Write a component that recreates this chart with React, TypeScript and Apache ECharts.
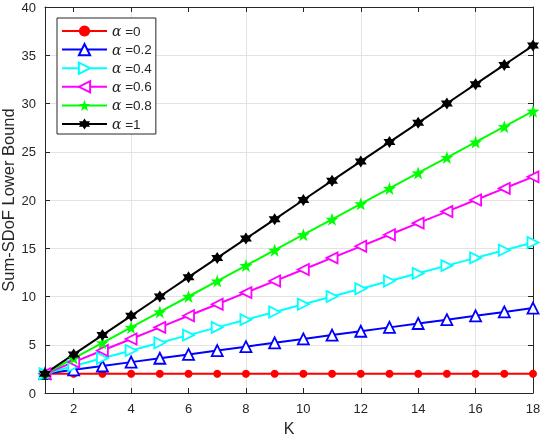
import React, { useEffect, useRef } from 'react';
import * as echarts from 'echarts';

const K = [1, 2, 3, 4, 5, 6, 7, 8, 9, 10, 11, 12, 13, 14, 15, 16, 17, 18];
const xTicks = [2, 4, 6, 8, 10, 12, 14, 16, 18];

const alpha0 = [2, 2, 2, 2, 2, 2, 2, 2, 2, 2, 2, 2, 2, 2, 2, 2, 2, 2];
const alpha02 = [2, 2.4, 2.8, 3.2, 3.6, 4, 4.4, 4.8, 5.2, 5.6, 6, 6.4, 6.8, 7.2, 7.6, 8, 8.4, 8.8];
const alpha04 = [2, 2.8, 3.6, 4.4, 5.2, 6, 6.8, 7.6, 8.4, 9.2, 10, 10.8, 11.6, 12.4, 13.2, 14, 14.8, 15.6];
const alpha06 = [2, 3.2, 4.4, 5.6, 6.8, 8, 9.2, 10.4, 11.6, 12.8, 14, 15.2, 16.4, 17.6, 18.8, 20, 21.2, 22.4];
const alpha08 = [2, 3.6, 5.2, 6.8, 8.4, 10, 11.6, 13.2, 14.8, 16.4, 18, 19.6, 21.2, 22.8, 24.4, 26, 27.6, 29.2];
const alpha1 = [2, 4, 6, 8, 10, 12, 14, 16, 18, 20, 22, 24, 26, 28, 30, 32, 34, 36];

const seriesNames = ['0', '0.2', '0.4', '0.6', '0.8', '1'];

const STAR = 'path://M0,-10 L2.35,-3.24 L9.51,-3.09 L3.8,1.24 L5.88,8.09 L0,4 L-5.88,8.09 L-3.8,1.24 L-9.51,-3.09 L-2.35,-3.24 Z';
const HEXAGRAM = 'path://M0,-10 L8.66,5 L-8.66,5 Z M0,10 L-8.66,-5 L8.66,-5 Z';

const axisColor = '#262626';
const gridColor = '#e3e3e3';
const font = '"Liberation Sans", Arial, sans-serif';

const App: React.FC = () => {
  const chartRef = useRef<HTMLDivElement>(null);

  useEffect(() => {
    if (!chartRef.current) return;
    const chart = echarts.init(chartRef.current, undefined, { renderer: 'svg' });

    const line = (
      name: string,
      values: number[],
      color: string,
      symbol: string,
      size: number,
      hollow: boolean,
      rotate = 0
    ) => ({
      name,
      type: 'line',
      data: K.map((k, i) => [k, values[i]]),
      symbol,
      symbolSize: size,
      symbolRotate: rotate,
      showAllSymbol: true,
      lineStyle: { color, width: 2 },
      itemStyle: {
        color: hollow ? '#ffffff' : color,
        borderColor: color,
        borderWidth: hollow ? 1.8 : 0,
      },
      emphasis: { disabled: true },
    });

    const option = {
      animation: false,
      textStyle: { fontFamily: font },
      grid: { left: 45, right: 9, top: 7, bottom: 43, outerBoundsMode: 'none', containLabel: false },
      legend: {
        orient: 'vertical',
        left: 57,
        top: 18,
        backgroundColor: '#ffffff',
        borderColor: '#262626',
        borderWidth: 1,
        padding: [6, 4, 3, 4],
        itemWidth: 45,
        itemHeight: 14,
        itemGap: 4.6,
        data: seriesNames.map(n => ({ name: n })),
        formatter: (n: string) => `{a|α} =${n}`,
        textStyle: {
          fontSize: 13.5,
          color: axisColor,
          fontFamily: font,
          rich: { a: { fontStyle: 'italic', fontSize: 14, fontFamily: 'DejaVu Serif, serif', color: axisColor } },
        },
      },
      xAxis: [
        {
          type: 'value',
          min: 1,
          max: 18,
          interval: 1,
          name: 'K',
          nameLocation: 'middle',
          nameGap: 27,
          nameMoveOverlap: false,
          nameTextStyle: { fontSize: 16, color: axisColor, fontFamily: font },
          axisLine: { show: true, onZero: false, lineStyle: { color: axisColor, width: 1 } },
          axisTick: { show: true, inside: true, length: 5, customValues: xTicks, lineStyle: { color: axisColor } },
          axisLabel: { customValues: xTicks, fontSize: 13, color: axisColor, margin: 9 },
          splitLine: { show: true, lineStyle: { color: ['rgba(0,0,0,0)', gridColor], width: 1 } },
        },
        {
          type: 'value',
          position: 'top',
          min: 1,
          max: 18,
          interval: 1,
          axisLine: { show: true, onZero: false, lineStyle: { color: axisColor, width: 1 } },
          axisTick: { show: true, inside: true, length: 5, customValues: xTicks, lineStyle: { color: axisColor } },
          axisLabel: { show: false },
          splitLine: { show: false },
        },
      ],
      yAxis: [
        {
          type: 'value',
          min: 0,
          max: 40,
          interval: 5,
          name: 'Sum-SDoF Lower Bound',
          nameLocation: 'middle',
          nameGap: 29,
          nameMoveOverlap: false,
          nameTextStyle: { fontSize: 16.5, lineHeight: 16, color: axisColor, fontFamily: font },
          axisLine: { show: true, onZero: false, lineStyle: { color: axisColor, width: 1 } },
          axisTick: { show: true, inside: true, length: 5, lineStyle: { color: axisColor } },
          axisLabel: { fontSize: 13, color: axisColor, margin: 9 },
          splitLine: { show: true, lineStyle: { color: gridColor, width: 1 } },
        },
        {
          type: 'value',
          position: 'right',
          min: 0,
          max: 40,
          interval: 5,
          axisLine: { show: true, onZero: false, lineStyle: { color: axisColor, width: 1 } },
          axisTick: { show: true, inside: true, length: 5, lineStyle: { color: axisColor } },
          axisLabel: { show: false },
          splitLine: { show: false },
        },
      ],
      series: [
        line('0', alpha0, '#ff0000', 'circle', 8, false),
        line('0.2', alpha02, '#0000ff', 'triangle', 11, true),
        line('0.4', alpha04, '#00ffff', 'triangle', 11, true, -90),
        line('0.6', alpha06, '#ff00ff', 'triangle', 11, true, 90),
        line('0.8', alpha08, '#00ff00', STAR, 13, false),
        line('1', alpha1, '#000000', HEXAGRAM, 12, false),
      ],
    };

    chart.setOption(option);
    return () => chart.dispose();
  }, []);

  return (
    <div
      ref={chartRef}
      style={{ position: 'fixed', left: 0, top: 0, width: 542, height: 436 }}
    />
  );
};

export default App;
